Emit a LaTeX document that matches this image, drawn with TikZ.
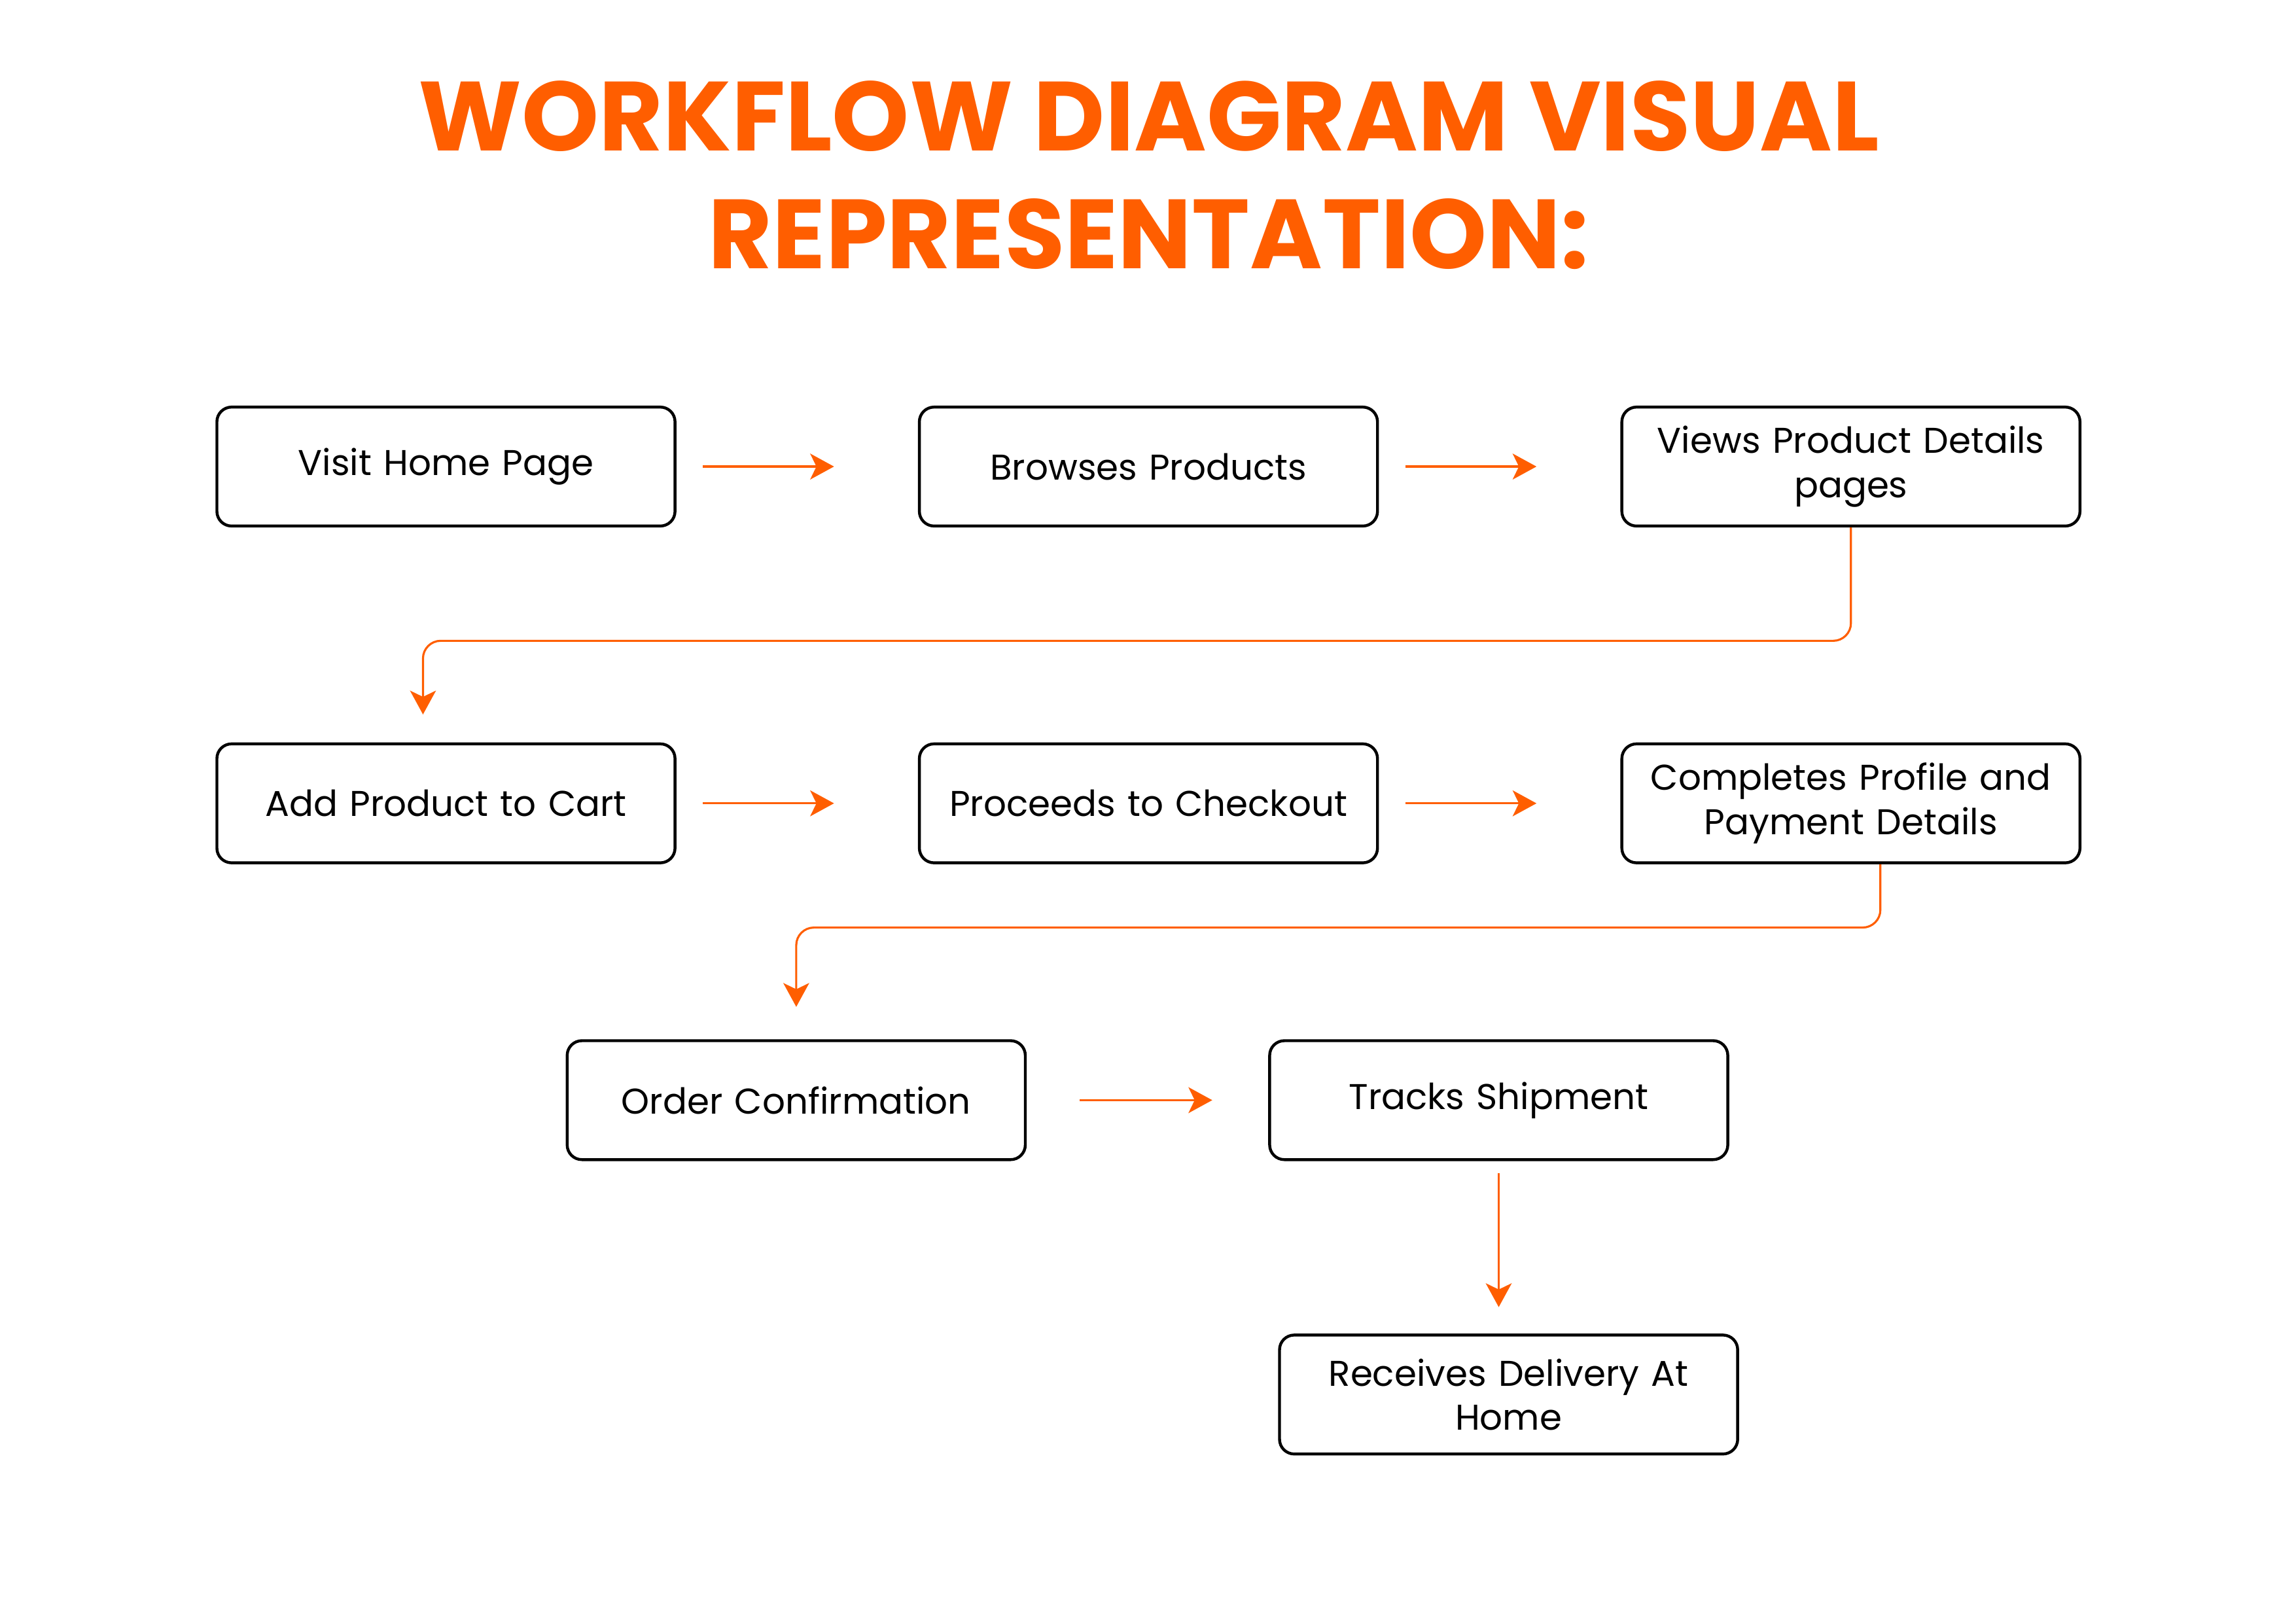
\documentclass[tikz,border=0pt]{standalone}
\usepackage{fontspec}
\setmainfont{Poppins}
\usetikzlibrary{positioning, arrows.meta}
\definecolor{floworange}{HTML}{FF5E00}
\tikzstyle{stepbox} = [rectangle, rounded corners=0.25cm, minimum width=7.78cm, minimum height=2.02cm, text width=7.4cm, align=center, draw=black, line width=1.4pt, font=\fontsize{17.3}{21.3}\selectfont]
\tikzstyle{arrow} = [draw=floworange, line width=1pt, -{Stealth[length=11.5pt, width=12.5pt, inset=3pt]}, color=floworange]

\begin{document}
\begin{tikzpicture}[x=0.025cm, y=-0.025cm, node distance=3.65cm and 4.1cm]
        \useasboundingbox (0,0) rectangle (1560,1103);
        \node (title) [text=floworange, align=center, font=\fontsize{47.5}{57}\selectfont\bfseries] at (780.5,119) {WORKFLOW DIAGRAM VISUAL\\REPRESENTATION:};

        \node (visit) [stepbox] at (303,317) {Visit Home Page};
        \node (browse) [stepbox, right=of visit] {Browses Products};
        \node (details) [stepbox, right=of browse] {Views Product Details\\pages};
        \node (cart) [stepbox, below=of visit] {Add Product to Cart};
        \node (checkout) [stepbox, right=of cart] {Proceeds to Checkout};
        \node (profile) [stepbox, right=of checkout] {Completes Profile and\\Payment Details};
        \node (order) [stepbox] at (541,747.5) {Order Confirmation};
        \node (track) [stepbox, right=of order] {Tracks Shipment};
        \node (receive) [stepbox] at (1025,947.5) {Receives Delivery At\\Home};

        \draw [arrow, shorten <=0.45cm, shorten >=1.425cm] (visit) -- (browse);
        \draw [arrow, shorten <=0.45cm, shorten >=1.425cm] (browse) -- (details);
        \draw [arrow, rounded corners=0.3cm, shorten >=0.475cm] (details.south) -- ++(0,77) -| ([xshift=-0.39cm]cart.north);
        \draw [arrow, shorten <=0.45cm, shorten >=1.425cm] (cart) -- (checkout);
        \draw [arrow, shorten <=0.45cm, shorten >=1.425cm] (checkout) -- (profile);
        \draw [arrow, rounded corners=0.3cm, shorten >=0.55cm] ([xshift=0.5cm]profile.south) -- ++(0,43) -| (order.north);
        \draw [arrow, shorten <=0.9cm, shorten >=0.95cm] (order) -- (track);
        \draw [arrow, shorten <=0.2cm, shorten >=0.45cm] (track.south) -- (track.south |- receive.north);
    \end{tikzpicture}
\end{document}
